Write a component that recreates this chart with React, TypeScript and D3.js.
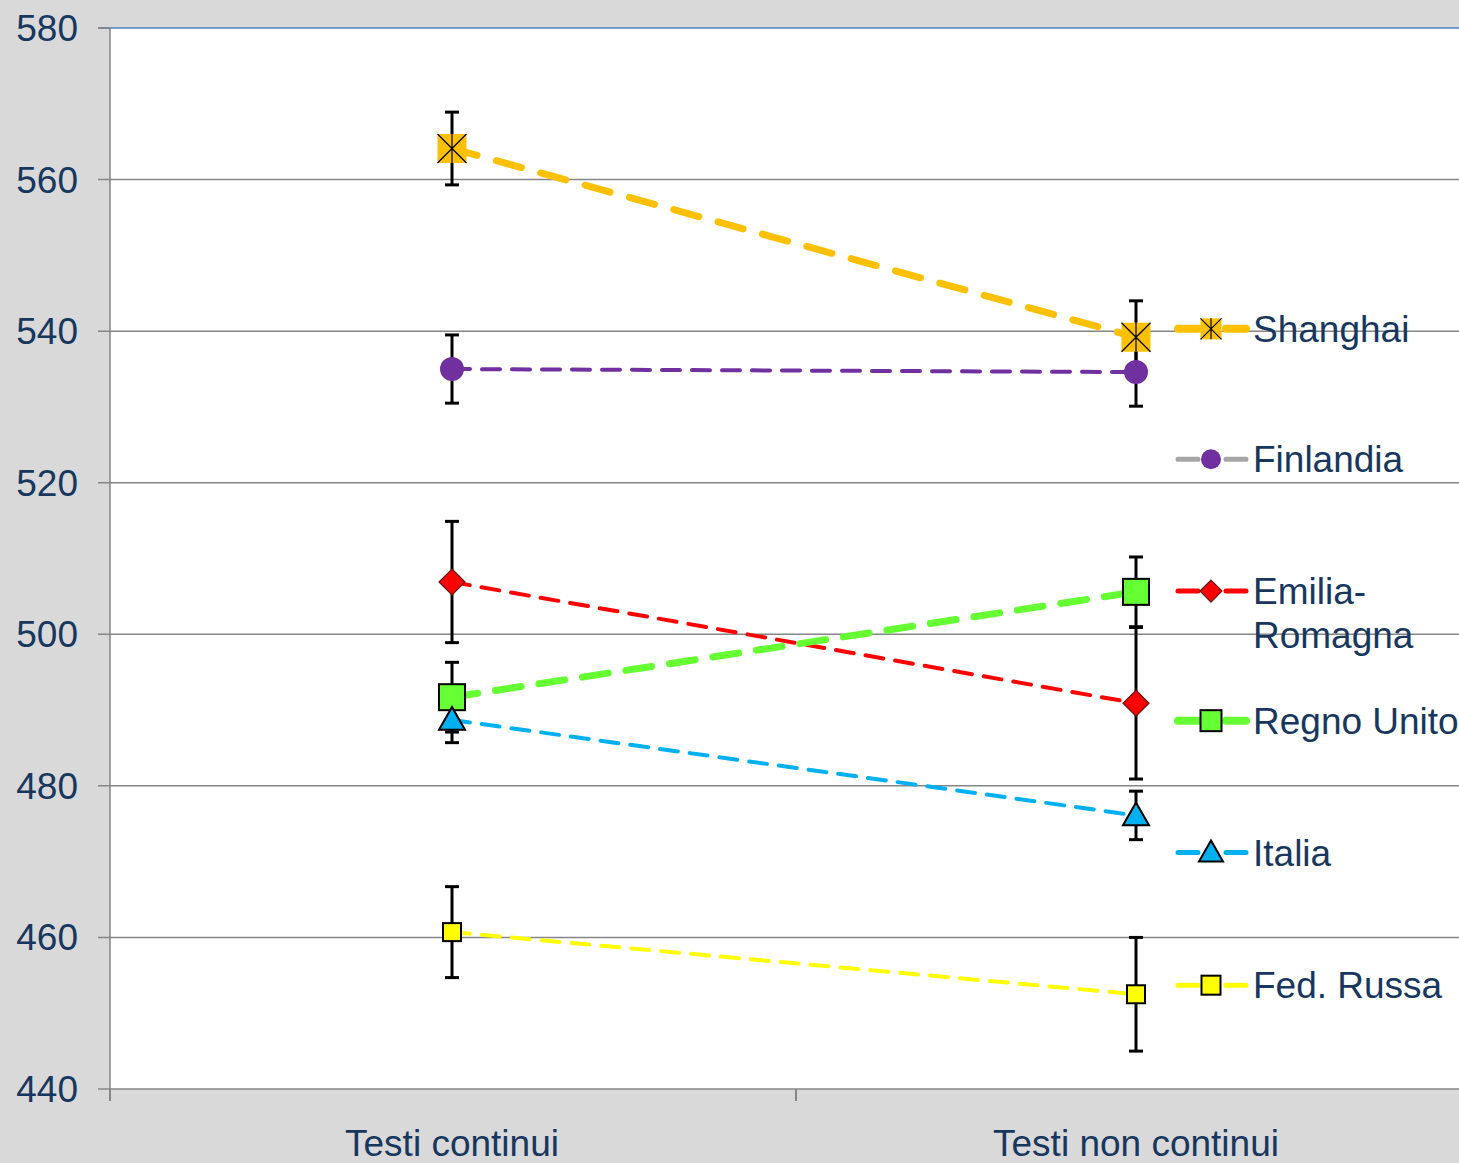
import { useEffect, useRef } from 'react'
import * as d3 from 'd3'

const categories = ['Testi continui', 'Testi non continui']
const yTicks = [440, 460, 480, 500, 520, 540, 560, 580]

const seriesNames = ['Shanghai', 'Finlandia', 'Emilia-Romagna', 'Regno Unito', 'Italia', 'Fed. Russa']
const seriesValues = [
  [564.1, 539.2],
  [535.0, 534.6],
  [506.9, 490.9],
  [491.7, 505.6],
  [488.7, 476.1],
  [460.7, 452.5],
]
const seriesErrors = [
  [4.8, 4.8],
  [4.5, 4.5],
  [8.0, 10.0],
  [4.6, 4.6],
  [3.0, 3.2],
  [6.0, 7.5],
]
const legendValues = [540.3, 523.1, 505.7, 488.6, 471.2, 453.7]

const colors = ['#ffc000', '#7030a0', '#ff0000', '#66ff33', '#00b0f0', '#ffff00']
const legendLineColors = ['#ffc000', '#a6a6a6', '#ff0000', '#66ff33', '#00b0f0', '#ffff00']
const markers = ['starSquare', 'circle', 'diamond', 'square', 'triangle', 'square']
const markerSizes = [29, 24, 26, 26, 26, 18]
const legendMarkerSizes = [21, 20, 22, 21, 24, 19]
const lineWidths = [7, 4, 4, 7, 4, 4]
const dashes = ['26,20', '18,12', '18,12', '26,18', '18,12', '18,12']

export default function App() {
  const svgRef = useRef<SVGSVGElement>(null)

  useEffect(() => {
    document.body.style.margin = '0'
    if (!svgRef.current) return
    const width = 1459
    const height = 1163
    const svg = d3.select(svgRef.current)
    svg.selectAll('*').remove()
    svg.attr('width', width).attr('height', height)

    const left = 110
    const top = 28
    const bottom = 1089

    svg.append('rect').attr('width', width).attr('height', height).attr('fill', '#d9d9d9')
    svg.append('rect')
      .attr('x', left).attr('y', top)
      .attr('width', width - left).attr('height', bottom - top)
      .attr('fill', '#ffffff')

    const x = d3.scaleBand().domain(categories).range([left, left + 684 * 2])
    const y = d3.scaleLinear().domain([440, 580]).range([bottom, top])
    const cx = (c: string) => (x(c) as number) + x.bandwidth() / 2

    const font = 'Liberation Sans, Arial, sans-serif'
    const textColor = '#17375e'

    // gridlines + y ticks
    yTicks.forEach(t => {
      svg.append('line')
        .attr('x1', left - 12).attr('x2', width)
        .attr('y1', y(t)).attr('y2', y(t))
        .attr('stroke', t === 580 ? '#4a7ebb' : '#868686')
        .attr('stroke-width', 1.5)
      if (t === 580) {
        svg.append('line')
          .attr('x1', left - 12).attr('x2', left)
          .attr('y1', y(t)).attr('y2', y(t))
          .attr('stroke', '#868686').attr('stroke-width', 1.5)
      }
      svg.append('text')
        .attr('x', 78).attr('y', y(t) + 13)
        .attr('text-anchor', 'end')
        .attr('font-family', font).attr('font-size', 37)
        .attr('fill', textColor)
        .text(t)
    })

    // axes lines
    svg.append('line')
      .attr('x1', left).attr('x2', left)
      .attr('y1', top).attr('y2', bottom + 12)
      .attr('stroke', '#868686').attr('stroke-width', 1.5)
    ;[left, left + 686].forEach(tx => {
      svg.append('line')
        .attr('x1', tx).attr('x2', tx)
        .attr('y1', bottom).attr('y2', bottom + 12)
        .attr('stroke', '#868686').attr('stroke-width', 2)
    })

    categories.forEach(c => {
      svg.append('text')
        .attr('x', cx(c)).attr('y', 1156)
        .attr('text-anchor', 'middle')
        .attr('font-family', font).attr('font-size', 37)
        .attr('fill', textColor)
        .text(c)
    })

    const drawMarker = (g: d3.Selection<SVGGElement, unknown, null, undefined>, kind: string, px: number, py: number, size: number, fill: string) => {
      const h = size / 2
      if (kind === 'starSquare') {
        g.append('rect').attr('x', px - h).attr('y', py - h).attr('width', size).attr('height', size).attr('fill', fill)
        g.append('path')
          .attr('d', `M${px - h},${py - h}L${px + h},${py + h}M${px + h},${py - h}L${px - h},${py + h}M${px},${py - h}L${px},${py + h}`)
          .attr('stroke', '#000').attr('stroke-width', 1.2).attr('fill', 'none')
      } else if (kind === 'circle') {
        g.append('circle').attr('cx', px).attr('cy', py).attr('r', h).attr('fill', fill)
      } else if (kind === 'diamond') {
        g.append('path')
          .attr('d', `M${px},${py - h}L${px + h},${py}L${px},${py + h}L${px - h},${py}Z`)
          .attr('fill', fill).attr('stroke', '#5a1a1a').attr('stroke-width', 1.2)
      } else if (kind === 'square') {
        g.append('rect').attr('x', px - h).attr('y', py - h).attr('width', size).attr('height', size)
          .attr('fill', fill).attr('stroke', '#000').attr('stroke-width', 2)
      } else if (kind === 'triangle') {
        g.append('path')
          .attr('d', `M${px},${py - h}L${px + h},${py + h * 0.75}L${px - h},${py + h * 0.75}Z`)
          .attr('fill', fill).attr('stroke', '#000').attr('stroke-width', 2)
      }
    }

    const line = d3.line<[number, number]>().x(d => d[0]).y(d => d[1])

    // series lines
    seriesNames.forEach((_, i) => {
      const pts = categories.map((c, j) => [cx(c), y(seriesValues[i][j])] as [number, number])
      svg.append('path')
        .attr('d', line(pts))
        .attr('fill', 'none')
        .attr('stroke', colors[i])
        .attr('stroke-width', lineWidths[i])
        .attr('stroke-dasharray', dashes[i])
        .attr('stroke-linecap', 'round')
    })

    // error bars
    seriesNames.forEach((_, i) => {
      categories.forEach((c, j) => {
        const px = cx(c)
        const v = seriesValues[i][j]
        const e = seriesErrors[i][j]
        const y1 = y(v + e)
        const y2 = y(v - e)
        const g = svg.append('g').attr('stroke', '#000').attr('stroke-width', 3)
        g.append('line').attr('x1', px).attr('x2', px).attr('y1', y1).attr('y2', y2)
        g.append('line').attr('x1', px - 7).attr('x2', px + 7).attr('y1', y1).attr('y2', y1)
        g.append('line').attr('x1', px - 7).attr('x2', px + 7).attr('y1', y2).attr('y2', y2)
      })
    })

    // markers
    seriesNames.forEach((_, i) => {
      const g = svg.append('g')
      categories.forEach((c, j) => {
        drawMarker(g, markers[i], cx(c), y(seriesValues[i][j]), markerSizes[i], colors[i])
      })
    })

    // legend
    const lx = 1211
    seriesNames.forEach((name, i) => {
      const ly = y(legendValues[i])
      const g = svg.append('g')
      g.append('line')
        .attr('x1', lx - 33).attr('x2', lx + 35)
        .attr('y1', ly).attr('y2', ly)
        .attr('stroke', legendLineColors[i])
        .attr('stroke-width', lineWidths[i] + 1)
        .attr('stroke-dasharray', '20,28,20')
        .attr('stroke-linecap', 'round')
      drawMarker(g, markers[i], lx, ly, legendMarkerSizes[i], colors[i])
      const parts = name === 'Emilia-Romagna' ? ['Emilia-', 'Romagna'] : [name]
      parts.forEach((p, k) => {
        g.append('text')
          .attr('x', 1253).attr('y', ly + 13 + k * 44)
          .attr('font-family', font).attr('font-size', 37)
          .attr('fill', textColor)
          .text(p)
      })
    })
  }, [])

  return <svg ref={svgRef} style={{ display: 'block' }} />
}
